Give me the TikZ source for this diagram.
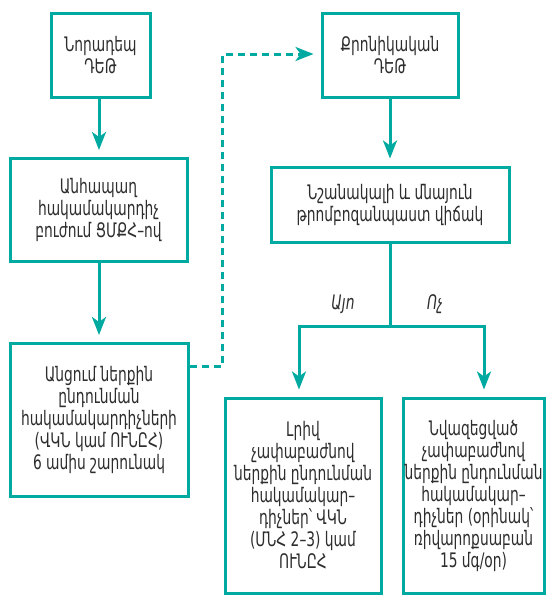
\documentclass[tikz,border=0pt]{standalone}
\usepackage{fontspec}
\setmainfont{DejaVu Sans}[FakeStretch=0.69]
\usetikzlibrary{arrows.meta}
\definecolor{teal1}{RGB}{0,170,160}
\definecolor{txt}{RGB}{45,45,45}
\begin{document}
\begin{tikzpicture}[x=1pt,y=-1pt,
  box/.style={draw=teal1, line width=3pt, inner sep=0pt, align=center, text=txt,
    font=\fontsize{20}{22}\selectfont},
  conn/.style={draw=teal1, line width=3pt},
  arr/.style={conn, -{Stealth[length=18pt,width=14pt,inset=5pt]}, shorten >=7pt},
  darr/.style={arr, dash pattern=on 7pt off 5pt},
  lbl/.style={text=txt, font=\fontsize{20}{22}\selectfont\itshape}
]
\useasboundingbox (0,0) rectangle (546,595);
\node[box, minimum width=99pt, minimum height=84pt] (b1) at (100.5,55) {Նորադեպ\\ԴԵԹ};
\node[box, minimum width=177pt, minimum height=103pt] (b2) at (98.5,209.5) {Անհապաղ\\հակամակարդիչ\\բուժում ՑՄՔՀ–ով};
\node[box, minimum width=178pt, minimum height=153pt] (b3) at (99,419.5) {Անցում ներքին\\ընդունման\\հակամակարդիչների\\(ՎԿՆ կամ ՈՒՆԸՀ)\\6 ամիս շարունակ};
\node[box, minimum width=136pt, minimum height=84pt] (b4) at (390,55) {Քրոնիկական\\ԴԵԹ};
\node[box, minimum width=238pt, minimum height=75pt] (b5) at (390,204.5) {Նշանակալի և մնայուն\\թրոմբոզանպաստ վիճակ};
\node[box, minimum width=156pt, minimum height=195pt] (b6) at (303,495.5) {Լրիվ\\չափաբաժնով\\ներքին ընդունման\\հակամակար–\\դիչներ՝ ՎԿՆ\\(ՄՆՀ 2–3) կամ\\ՈՒՆԸՀ};
\node[box, minimum width=141pt, minimum height=195pt] (b7) at (473.5,495.5) {Նվազեցված\\չափաբաժնով\\ներքին ընդունման\\հակամակար–\\դիչներ (օրինակ՝\\ռիվարոքսաբան\\15 մգ/օր)};

\coordinate (j) at (390,326);
\coordinate (l) at (299,326);
\coordinate (r) at (484,326);
\coordinate (dv) at (222,54);

\draw[arr] (99,98) -- (99,157);
\draw[arr] (99,262) -- (99,342);
\draw[arr] (b4.south) -- (b5.north);
\draw[conn] (b5.south) -- (j);
\draw[arr, line join=miter] (j) -| (l |- b6.north);
\draw[arr, line join=miter] (j) -| (r |- b7.north);
\draw[darr] (b3.east |- 0,366) -| (dv) -- (b4.west |- dv);

\node[lbl] (yes) at (343,304) {Այո};
\node[lbl] (no) at (435,304) {Ոչ};
\end{tikzpicture}
\end{document}
